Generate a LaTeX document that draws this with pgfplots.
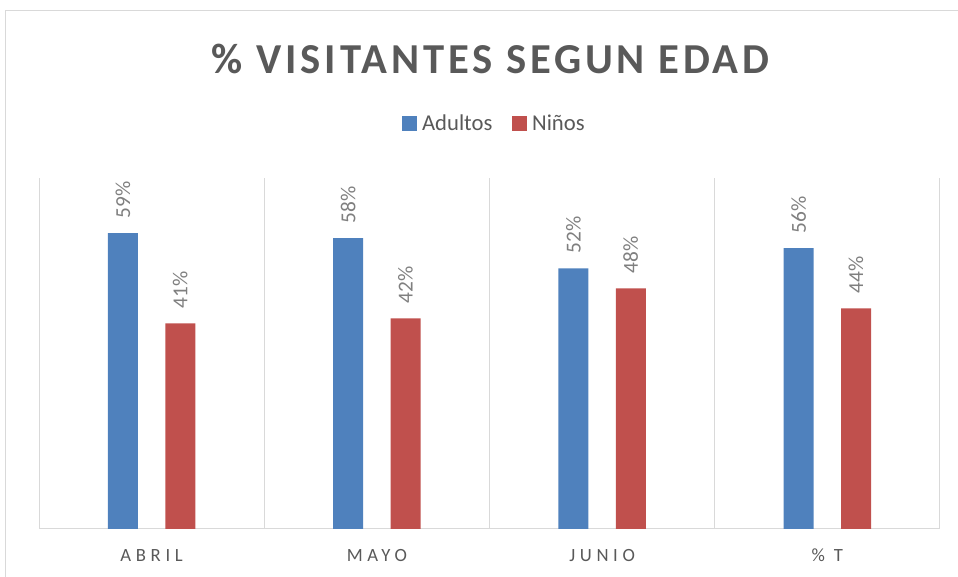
\documentclass[border=0pt]{standalone}
\usepackage{fontspec}
\setmainfont{Carlito}
\newfontfamily\spacedfont[LetterSpace=25]{Carlito}
\newfontfamily\titlefont[LetterSpace=9]{Carlito}
\usepackage{pgfplots}
\pgfplotsset{compat=1.18}
\definecolor{cblue}{HTML}{4F81BD}
\definecolor{cred}{HTML}{C0504D}
\definecolor{txt}{HTML}{595959}
\definecolor{lbl}{HTML}{7F7F7F}
\definecolor{gridc}{HTML}{D9D9D9}
\begin{document}
\begin{tikzpicture}
\path[use as bounding box] (0,0) rectangle (718.5pt,-432.75pt);
\draw[gridc, line width=0.75pt] (3.75pt,-432.75pt) -- (3.75pt,-8.25pt) -- (718.5pt,-8.25pt);
\node[text=txt, font=\titlefont\bfseries\fontsize{32}{36}\selectfont] at (368pt,-44.25pt) {\% VISITANTES SEGUN EDAD};
\begin{axis}[
  at={(29.25pt,-396.75pt)}, anchor=south west,
  scale only axis, width=675.75pt, height=263.25pt,
  xmin=-0.5, xmax=3.5, ymin=0, ymax=70,
  axis x line*=bottom, axis y line=none,
  x axis line style={gridc, line width=0.75pt},
  ytick=\empty,
  xtick={0,1,2,3},
  xticklabels={ABRIL,MAYO,JUNIO,\% T},
  major tick length=0pt, minor tick length=0pt,
  minor xtick={-0.5,0.5,1.5,2.5,3.5},
  xminorgrids, minor grid style={gridc, line width=0.75pt},
  xticklabel style={font=\spacedfont\fontsize{14}{16}\selectfont, text=txt, yshift=-11.5pt},
  ybar, bar width=22.5pt,
  nodes near coords={\pgfmathprintnumber[assume math mode=true]{\pgfplotspointmeta}\%},
  every node near coord/.append style={rotate=90, anchor=west, font=\fontsize{16}{18}\selectfont, text=lbl, inner xsep=11pt},
  legend columns=2,
  legend style={at={(0.506,1.155)}, anchor=center, draw=none, fill=none,
    font=\fontsize{17}{20}\selectfont, text=txt,
    /tikz/every even column/.append style={column sep=13pt}},
  legend image code/.code={\fill[#1] (0pt,-5.625pt) rectangle (11.25pt,5.625pt);},
]
\addplot[fill=cblue, draw=none, bar shift=-21.5pt] coordinates {(0,59) (1,58) (2,52) (3,56)};
\addplot[fill=cred, draw=none, bar shift=21.5pt] coordinates {(0,41) (1,42) (2,48) (3,44)};
\legend{\hspace{1.5pt}Adultos, \hspace{1.5pt}Niños}
\end{axis}
\end{tikzpicture}
\end{document}
